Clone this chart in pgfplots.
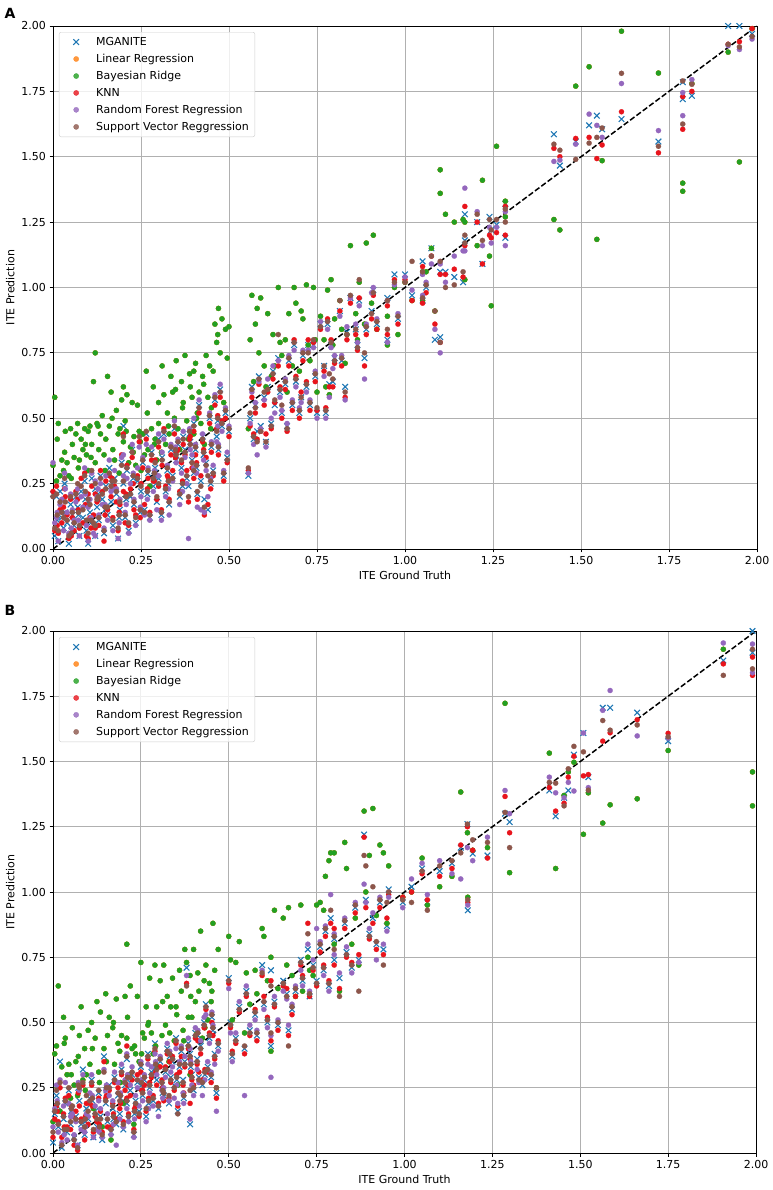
\documentclass[border=0pt]{standalone}
\usepackage{fontspec}
\setmainfont{DejaVu Sans}
\usepackage{pgfplots}
\usepackage{pgfplotstable}
\pgfplotsset{compat=1.18}
\definecolor{cMG}{HTML}{1F77B4}
\definecolor{cLR}{HTML}{FF7F0E}
\definecolor{cBR}{HTML}{22A022}
\definecolor{cKN}{HTML}{E8141C}
\definecolor{cRF}{HTML}{9467BD}
\definecolor{cSV}{HTML}{8C564B}
\definecolor{cGrid}{HTML}{B0B0B0}

\pgfplotstableread{
x mg br kn rf sv
0.00 0.21 0.32 0.22 0.33 0.20
0.005 0.05 0.58 0.07 0.10 0.08
0.01 0.20 0.26 0.24 0.12 0.21
0.015 0.03 0.48 0.06 0.03 0.07
0.02 0.22 0.28 0.15 0.17 0.18
0.025 0.12 0.34 0.10 0.19 0.14
0.03 0.08 0.30 0.16 0.07 0.12
0.035 0.14 0.45 0.20 0.23 0.18
0.04 0.10 0.33 0.13 0.14 0.11
0.045 0.02 0.28 0.04 0.06 0.05
0.05 0.17 0.46 0.19 0.21 0.20
0.055 0.13 0.40 0.12 0.15 0.14
0.06 0.09 0.35 0.07 0.11 0.10
0.065 0.20 0.44 0.22 0.18 0.21
0.07 0.16 0.48 0.19 0.23 0.25
0.075 0.05 0.34 0.08 0.05 0.09
0.08 0.22 0.42 0.27 0.20 0.24
0.085 0.12 0.38 0.10 0.16 0.15
0.09 0.26 0.46 0.29 0.31 0.28
0.095 0.07 0.36 0.05 0.09 0.11
0.10 0.18 0.45 0.21 0.16 0.19
0.10 0.02 0.30 0.04 0.03 0.06
0.105 0.14 0.47 0.12 0.19 0.17
0.11 0.27 0.40 0.24 0.29 0.30
0.115 0.09 0.64 0.13 0.06 0.10
0.12 0.23 0.33 0.21 0.26 0.25
0.12 0.05 0.75 0.08 0.05 0.09
0.125 0.16 0.48 0.18 0.20 0.19
0.13 0.11 0.38 0.09 0.13 0.12
0.135 0.28 0.44 0.30 0.25 0.27
0.14 0.19 0.51 0.22 0.17 0.21
0.145 0.06 0.36 0.03 0.08 0.07
0.15 0.24 0.42 0.26 0.28 0.23
0.155 0.13 0.66 0.15 0.11 0.16
0.16 0.31 0.47 0.28 0.34 0.29
0.165 0.18 0.60 0.20 0.22 0.24
0.17 0.09 0.38 0.12 0.07 0.11
0.175 0.27 0.34 0.24 0.30 0.26
0.18 0.21 0.53 0.18 0.23 0.22
0.185 0.04 0.44 0.07 0.04 0.08
0.19 0.15 0.46 0.17 0.19 0.18
0.195 0.33 0.57 0.36 0.35 0.32
0.20 0.47 0.62 0.44 0.36 0.43
0.20 0.25 0.41 0.22 0.28 0.26
0.205 0.12 0.49 0.10 0.14 0.13
0.21 0.30 0.59 0.32 0.27 0.31
0.215 0.07 0.33 0.09 0.06 0.10
0.22 0.20 0.39 0.23 0.25 0.21
0.225 0.38 0.56 0.35 0.40 0.37
0.23 0.17 0.43 0.15 0.19 0.18
0.235 0.10 0.32 0.13 0.09 0.12
0.24 0.26 0.55 0.28 0.31 0.27
0.245 0.44 0.45 0.41 0.39 0.43
0.25 0.22 0.30 0.25 0.20 0.24
0.255 0.33 0.44 0.31 0.35 0.34
0.26 0.15 0.36 0.17 0.13 0.14
0.265 0.44 0.68 0.42 0.40 0.45
0.27 0.29 0.38 0.27 0.31 0.30
0.275 0.12 0.24 0.14 0.11 0.13
0.28 0.37 0.46 0.34 0.39 0.36
0.285 0.24 0.62 0.26 0.22 0.27
0.29 0.31 0.42 0.34 0.29 0.33
0.295 0.18 0.34 0.19 0.15 0.20
0.30 0.42 0.56 0.39 0.44 0.41
0.30 0.27 0.48 0.24 0.28 0.25
0.31 0.35 0.70 0.32 0.37 0.34
0.315 0.44 0.59 0.46 0.42 0.45
0.32 0.22 0.40 0.24 0.20 0.23
0.325 0.30 0.52 0.28 0.32 0.31
0.33 0.17 0.44 0.19 0.13 0.18
0.335 0.38 0.66 0.36 0.40 0.39
0.34 0.28 0.60 0.30 0.26 0.27
0.345 0.46 0.50 0.44 0.49 0.47
0.35 0.34 0.72 0.37 0.33 0.36
0.355 0.40 0.46 0.38 0.42 0.41
0.36 0.20 0.38 0.22 0.17 0.21
0.365 0.31 0.64 0.33 0.29 0.34
0.37 0.43 0.56 0.40 0.45 0.42
0.375 0.38 0.74 0.36 0.35 0.37
0.38 0.27 0.49 0.30 0.25 0.28
0.385 0.24 0.42 0.18 0.04 0.20
0.39 0.41 0.62 0.43 0.38 0.40
0.395 0.34 0.58 0.31 0.36 0.33
0.40 0.48 0.68 0.45 0.50 0.47
0.40 0.29 0.44 0.27 0.31 0.30
0.405 0.38 0.71 0.36 0.40 0.39
0.41 0.21 0.52 0.19 0.16 0.22
0.415 0.55 0.60 0.52 0.57 0.54
0.42 0.26 0.48 0.28 0.15 0.24
0.425 0.43 0.66 0.41 0.44 0.42
0.43 0.19 0.40 0.13 0.14 0.16
0.435 0.33 0.74 0.35 0.30 0.32
0.44 0.15 0.58 0.17 0.20 0.28
0.445 0.50 0.70 0.48 0.52 0.51
0.45 0.39 0.54 0.37 0.41 0.40
0.455 0.30 0.68 0.28 0.32 0.29
0.46 0.57 0.86 0.55 0.59 0.58
0.465 0.43 0.79 0.46 0.41 0.45
0.47 0.38 0.92 0.36 0.40 0.39
0.475 0.61 0.75 0.58 0.63 0.60
0.48 0.47 0.88 0.49 0.45 0.48
0.485 0.28 0.56 0.26 0.30 0.29
0.49 0.52 0.84 0.50 0.54 0.53
0.495 0.35 0.73 0.33 0.37 0.34
0.50 0.45 0.85 0.43 0.47 0.46
0.555 0.28 0.46 0.30 0.29 0.31
0.56 0.50 0.80 0.47 0.48 0.52
0.565 0.62 0.97 0.58 0.60 0.61
0.57 0.42 0.64 0.44 0.40 0.43
0.575 0.55 0.86 0.52 0.56 0.54
0.58 0.45 0.92 0.42 0.36 0.41
0.585 0.66 0.75 0.63 0.64 0.65
0.59 0.47 0.96 0.45 0.46 0.45
0.60 0.58 0.70 0.55 0.57 0.60
0.605 0.41 0.62 0.44 0.39 0.41
0.61 0.62 0.90 0.60 0.65 0.61
0.62 0.48 0.66 0.46 0.50 0.47
0.625 0.68 0.82 0.65 0.70 0.67
0.63 0.55 0.70 0.56 0.52 0.57
0.64 0.73 1.00 0.70 0.72 0.82
0.645 0.60 0.79 0.62 0.58 0.61
0.65 0.52 0.74 0.50 0.53 0.55
0.66 0.63 0.80 0.61 0.65 0.64
0.665 0.47 0.60 0.45 0.48 0.46
0.67 0.72 0.90 0.70 0.74 0.73
0.68 0.55 0.70 0.53 0.57 0.56
0.685 0.78 1.00 0.80 0.76 0.79
0.69 0.64 0.94 0.66 0.62 0.65
0.70 0.52 0.68 0.50 0.54 0.53
0.705 0.58 0.91 0.60 0.56 0.58
0.71 0.74 0.88 0.72 0.76 0.75
0.72 0.62 1.01 0.64 0.60 0.63
0.725 0.78 0.78 0.80 0.76 0.75
0.73 0.55 0.72 0.53 0.57 0.56
0.74 0.78 1.00 0.79 0.77 0.80
0.745 0.66 0.80 0.64 0.68 0.67
0.75 0.52 0.60 0.53 0.50 0.54
0.76 0.86 0.89 0.84 0.87 0.85
0.77 0.70 0.80 0.68 0.66 0.70
0.775 0.52 0.62 0.54 0.50 0.53
0.78 0.86 0.99 0.88 0.84 0.87
0.785 0.63 0.59 0.62 0.58 0.67
0.79 0.78 1.03 0.80 0.77 0.79
0.795 0.64 0.78 0.62 0.69 0.65
0.80 0.73 0.88 0.71 0.74 0.72
0.815 0.91 0.95 0.91 0.89 0.95
0.82 0.72 0.84 0.70 0.74 0.73
0.83 0.62 0.71 0.58 0.57 0.60
0.835 0.83 0.82 0.80 0.85 0.82
0.845 0.96 1.16 0.94 0.96 0.97
0.86 0.84 0.90 0.82 0.86 0.84
0.865 0.78 0.80 0.76 0.79 0.77
0.87 0.95 1.02 0.96 0.93 1.03
0.885 0.73 0.86 0.70 0.65 0.75
0.89 0.84 1.17 0.82 0.86 0.85
0.905 0.91 0.94 0.88 0.98 0.90
0.91 0.99 1.20 0.97 1.00 0.98
0.92 0.86 0.84 0.84 0.88 0.87
0.95 0.96 0.89 0.93 0.95 0.95
0.95 0.80 0.78 0.82 0.79 0.84
0.97 1.05 1.00 1.03 1.01 1.02
0.98 0.88 0.82 0.86 0.90 0.89
1.00 1.05 1.02 1.03 1.04 1.02
1.02 0.97 0.95 0.95 0.99 1.10
1.05 1.10 1.06 1.08 1.05 1.06
1.05 0.95 0.95 0.94 0.97 0.96
1.06 1.00 1.06 0.98 1.02 1.01
1.075 1.15 1.15 1.12 1.09 1.12
1.085 0.80 0.91 0.86 0.84 0.91
1.10 0.81 1.36 0.79 0.75 0.79
1.10 1.06 1.45 1.05 1.09 1.10
1.115 1.06 1.28 1.05 1.02 1.00
1.14 1.04 1.25 1.07 1.12 1.01
1.165 1.02 1.26 1.04 1.14 1.06
1.17 1.28 1.25 1.31 1.38 1.20
1.17 1.18 1.03 1.16 1.14 1.17
1.205 1.25 1.16 1.25 1.29 1.28
1.22 1.09 1.41 1.09 1.16 1.18
1.24 1.27 1.12 1.20 1.23 1.26
1.245 1.22 0.93 1.19 1.17 1.22
1.26 1.24 1.54 1.21 1.23 1.26
1.285 1.32 1.33 1.31 1.29 1.30
1.285 1.19 1.27 1.20 1.16 1.25
1.423 1.586 1.26 1.532 1.482 1.548
1.44 1.466 1.22 1.50 1.487 1.525
1.485 1.558 1.77 1.57 1.548 1.49
1.523 1.62 1.844 1.574 1.663 1.552
1.545 1.657 1.184 1.493 1.62 1.574
1.56 1.605 1.485 1.545 1.574 1.61
1.615 1.644 1.98 1.672 1.78 1.819
1.72 1.558 1.82 1.515 1.60 1.54
1.789 1.72 1.399 1.73 1.745 1.79
1.789 1.785 1.368 1.605 1.657 1.625
1.815 1.733 1.78 1.75 1.795 1.777
1.918 2.00 1.90 1.93 1.925 1.93
1.95 2.00 1.48 1.94 1.91 1.92
1.986 1.97 1.99 1.99 1.95 1.96
0.012 0.11 0.42 0.09 0.14 0.13
0.033 0.25 0.37 0.23 0.29 0.27
0.052 0.07 0.27 0.05 0.08 0.06
0.072 0.13 0.31 0.15 0.11 0.14
0.092 0.19 0.40 0.17 0.21 0.22
0.108 0.10 0.35 0.08 0.12 0.11
0.128 0.21 0.47 0.19 0.23 0.20
0.148 0.15 0.30 0.13 0.17 0.16
0.168 0.25 0.50 0.27 0.23 0.26
0.188 0.12 0.29 0.14 0.10 0.13
0.208 0.19 0.45 0.21 0.17 0.20
0.228 0.27 0.37 0.25 0.29 0.28
0.248 0.14 0.41 0.12 0.16 0.15
0.268 0.21 0.52 0.23 0.19 0.22
0.288 0.28 0.40 0.26 0.30 0.29
0.308 0.13 0.37 0.15 0.11 0.14
0.328 0.25 0.47 0.27 0.23 0.26
0.348 0.37 0.61 0.35 0.39 0.38
0.368 0.24 0.54 0.26 0.22 0.25
0.388 0.44 0.67 0.42 0.46 0.45
0.408 0.31 0.50 0.33 0.29 0.32
0.428 0.36 0.63 0.38 0.34 0.37
0.448 0.25 0.46 0.23 0.27 0.26
0.468 0.49 0.82 0.51 0.47 0.50
}\tabA

\pgfplotstableread{
x mg br kn rf sv
0.00 0.04 0.12 0.06 0.10 0.08
0.005 0.15 0.38 0.13 0.17 0.16
0.01 0.22 0.41 0.18 0.26 0.24
0.015 0.10 0.64 0.12 0.08 0.11
0.02 0.35 0.16 0.25 0.28 0.27
0.025 0.02 0.33 0.06 0.04 0.03
0.03 0.13 0.52 0.15 0.18 0.14
0.035 0.19 0.44 0.21 0.27 0.20
0.04 0.08 0.30 0.10 0.05 0.09
0.045 0.24 0.34 0.22 0.19 0.25
0.05 0.11 0.21 0.09 0.14 0.12
0.055 0.17 0.48 0.14 0.15 0.18
0.06 0.06 0.26 0.03 0.07 0.05
0.065 0.14 0.35 0.16 0.12 0.13
0.07 0.03 0.22 0.01 0.03 0.02
0.075 0.20 0.45 0.18 0.24 0.25
0.08 0.11 0.56 0.13 0.09 0.12
0.085 0.32 0.28 0.26 0.30 0.27
0.09 0.07 0.40 0.05 0.08 0.10
0.095 0.17 0.30 0.19 0.15 0.22
0.10 0.13 0.47 0.11 0.14 0.16
0.105 0.21 0.34 0.19 0.23 0.20
0.11 0.28 0.50 0.26 0.30 0.27
0.115 0.06 0.17 0.08 0.06 0.09
0.12 0.16 0.44 0.14 0.18 0.15
0.125 0.10 0.58 0.12 0.09 0.13
0.13 0.23 0.31 0.21 0.20 0.24
0.135 0.14 0.54 0.16 0.17 0.13
0.14 0.05 0.10 0.08 0.06 0.07
0.145 0.37 0.40 0.35 0.32 0.31
0.15 0.19 0.61 0.21 0.24 0.20
0.155 0.12 0.45 0.10 0.15 0.13
0.16 0.26 0.52 0.24 0.22 0.25
0.165 0.08 0.05 0.10 0.07 0.09
0.17 0.17 0.48 0.19 0.20 0.18
0.175 0.29 0.34 0.27 0.31 0.28
0.18 0.11 0.59 0.13 0.03 0.12
0.185 0.22 0.42 0.25 0.27 0.23
0.19 0.15 0.39 0.17 0.13 0.20
0.195 0.32 0.45 0.30 0.34 0.31
0.20 0.09 0.19 0.12 0.10 0.11
0.205 0.26 0.60 0.24 0.28 0.27
0.21 0.36 0.80 0.41 0.38 0.37
0.21 0.19 0.44 0.21 0.17 0.20
0.215 0.13 0.30 0.15 0.12 0.14
0.22 0.24 0.64 0.22 0.26 0.29
0.225 0.30 0.40 0.28 0.33 0.31
0.23 0.07 0.11 0.09 0.06 0.08
0.235 0.20 0.38 0.18 0.22 0.19
0.24 0.27 0.60 0.30 0.25 0.28
0.245 0.16 0.35 0.14 0.18 0.15
0.25 0.33 0.73 0.31 0.35 0.34
0.255 0.22 0.46 0.24 0.20 0.23
0.26 0.28 0.44 0.26 0.30 0.29
0.265 0.14 0.56 0.16 0.12 0.17
0.27 0.38 0.49 0.36 0.34 0.37
0.275 0.25 0.67 0.27 0.23 0.26
0.28 0.31 0.46 0.29 0.33 0.30
0.285 0.20 0.38 0.22 0.18 0.21
0.29 0.42 0.72 0.39 0.38 0.40
0.295 0.28 0.56 0.26 0.30 0.32
0.30 0.17 0.33 0.19 0.14 0.18
0.305 0.35 0.66 0.33 0.37 0.36
0.31 0.26 0.45 0.28 0.24 0.27
0.315 0.22 0.72 0.20 0.25 0.23
0.32 0.31 0.49 0.33 0.29 0.32
0.325 0.40 0.60 0.38 0.42 0.39
0.33 0.19 0.35 0.21 0.20 0.22
0.335 0.29 0.56 0.27 0.31 0.28
0.34 0.35 0.67 0.37 0.33 0.36
0.345 0.26 0.43 0.24 0.21 0.25
0.35 0.44 0.56 0.42 0.40 0.43
0.355 0.16 0.26 0.18 0.19 0.15
0.36 0.33 0.70 0.31 0.35 0.34
0.365 0.39 0.62 0.37 0.41 0.40
0.37 0.28 0.47 0.26 0.23 0.27
0.375 0.35 0.78 0.33 0.37 0.34
0.38 0.71 0.73 0.65 0.68 0.64
0.385 0.42 0.52 0.40 0.44 0.41
0.39 0.11 0.30 0.19 0.13 0.24
0.39 0.38 0.68 0.36 0.40 0.37
0.395 0.30 0.52 0.28 0.26 0.29
0.40 0.24 0.78 0.26 0.22 0.25
0.405 0.46 0.58 0.44 0.48 0.45
0.41 0.36 0.46 0.34 0.32 0.35
0.415 0.29 0.62 0.31 0.27 0.28
0.42 0.41 0.85 0.38 0.43 0.40
0.425 0.26 0.44 0.28 0.22 0.27
0.43 0.50 0.66 0.48 0.52 0.49
0.435 0.57 0.72 0.55 0.53 0.56
0.44 0.33 0.51 0.31 0.35 0.32
0.445 0.44 0.65 0.46 0.42 0.45
0.45 0.29 0.58 0.27 0.31 0.30
0.455 0.47 0.88 0.45 0.49 0.48
0.46 0.38 0.70 0.36 0.34 0.37
0.465 0.23 0.25 0.21 0.16 0.25
0.47 0.41 0.78 0.43 0.39 0.42
0.50 0.67 0.83 0.65 0.63 0.66
0.505 0.50 0.74 0.48 0.46 0.49
0.51 0.37 0.51 0.39 0.35 0.38
0.52 0.44 0.73 0.42 0.46 0.43
0.53 0.56 0.81 0.54 0.58 0.55
0.545 0.40 0.46 0.38 0.22 0.41
0.55 0.62 0.69 0.60 0.64 0.61
0.56 0.47 0.57 0.45 0.49 0.46
0.575 0.53 0.70 0.55 0.51 0.54
0.58 0.45 0.61 0.43 0.47 0.46
0.595 0.72 0.86 0.68 0.70 0.69
0.60 0.57 0.83 0.60 0.55 0.58
0.61 0.50 0.66 0.52 0.48 0.51
0.62 0.70 0.75 0.66 0.29 0.64
0.62 0.41 0.39 0.43 0.45 0.46
0.63 0.58 0.93 0.56 0.60 0.57
0.64 0.49 0.63 0.47 0.51 0.50
0.655 0.66 0.90 0.64 0.62 0.65
0.665 0.61 0.72 0.63 0.59 0.60
0.67 0.47 0.94 0.45 0.49 0.41
0.68 0.55 0.68 0.53 0.57 0.56
0.69 0.62 0.60 0.60 0.64 0.63
0.705 0.74 0.95 0.72 0.70 0.73
0.71 0.66 0.62 0.68 0.64 0.67
0.725 0.78 0.75 0.88 0.80 0.84
0.73 0.60 0.70 0.60 0.62 0.61
0.74 0.72 0.68 0.70 0.74 0.71
0.75 0.66 0.95 0.64 0.86 0.65
0.76 0.79 0.96 0.77 0.81 0.80
0.77 0.70 0.93 0.72 0.68 0.71
0.775 0.85 1.06 0.83 0.87 0.86
0.785 0.64 1.12 0.66 0.62 0.65
0.79 0.90 1.15 0.88 0.99 0.93
0.80 0.74 0.80 0.72 0.76 0.78
0.80 0.82 1.15 0.86 0.84 0.83
0.815 0.67 0.62 0.63 0.69 0.60
0.83 0.88 1.19 0.86 0.90 0.89
0.835 0.77 1.09 0.75 0.79 0.76
0.85 0.71 0.80 0.73 0.69 0.72
0.86 0.94 0.90 0.92 0.96 0.95
0.87 0.74 0.72 0.76 0.73 0.62
0.885 1.22 1.31 1.21 1.03 1.14
0.89 0.97 1.00 0.94 0.96 1.10
0.90 0.84 1.14 0.82 0.86 0.83
0.91 0.90 1.32 0.88 0.92 1.02
0.92 0.80 0.91 0.78 0.74 0.81
0.93 0.96 1.18 0.94 0.98 0.97
0.94 0.78 1.15 0.76 0.80 0.72
0.95 0.87 0.88 0.90 0.85 0.96
0.955 1.01 1.10 0.99 0.98 1.00
0.995 0.96 0.98 0.98 0.94 0.97
1.02 1.02 1.00 1.00 1.05 0.96
1.05 1.09 1.13 1.07 1.11 1.08
1.065 0.96 0.95 0.97 0.99 0.93
1.10 1.08 1.02 1.06 1.12 1.10
1.135 1.11 1.06 1.09 1.07 1.12
1.16 1.17 1.383 1.18 1.05 1.15
1.179 1.26 1.227 1.25 1.17 1.26
1.18 0.93 0.98 0.96 0.95 0.97
1.194 1.147 1.16 1.16 1.12 1.20
1.236 1.14 1.17 1.13 1.21 1.19
1.286 1.30 1.723 1.366 1.389 1.305
1.299 1.268 1.074 1.227 1.30 1.17
1.412 1.389 1.532 1.40 1.44 1.42
1.43 1.29 1.09 1.31 1.38 1.417
1.454 1.361 1.37 1.34 1.361 1.33
1.466 1.389 1.46 1.44 1.42 1.472
1.482 1.526 1.497 1.52 1.387 1.558
1.509 1.609 1.221 1.445 1.609 1.537
1.523 1.44 1.38 1.45 1.40 1.39
1.564 1.706 1.264 1.578 1.696 1.657
1.585 1.706 1.334 1.61 1.772 1.62
1.662 1.687 1.357 1.66 1.598 1.64
1.75 1.578 1.542 1.608 1.59 1.595
1.907 1.887 1.93 1.874 1.954 1.83
1.99 1.917 1.46 1.83 1.84 1.855
1.99 2.00 1.33 1.90 1.95 1.93
0.012 0.18 0.25 0.16 0.20 0.19
0.032 0.08 0.42 0.10 0.07 0.09
0.052 0.16 0.30 0.18 0.14 0.17
0.072 0.25 0.37 0.23 0.27 0.26
0.092 0.12 0.24 0.14 0.10 0.13
0.112 0.20 0.40 0.18 0.22 0.21
0.132 0.09 0.27 0.11 0.08 0.10
0.152 0.24 0.35 0.22 0.26 0.25
0.172 0.13 0.50 0.15 0.11 0.14
0.192 0.21 0.27 0.19 0.23 0.22
0.212 0.28 0.52 0.26 0.30 0.29
0.232 0.15 0.41 0.17 0.13 0.16
0.252 0.26 0.38 0.24 0.28 0.27
0.272 0.19 0.50 0.21 0.17 0.20
0.292 0.33 0.41 0.31 0.35 0.34
0.312 0.23 0.58 0.25 0.21 0.24
0.332 0.37 0.46 0.35 0.39 0.38
0.352 0.28 0.53 0.30 0.26 0.29
0.372 0.21 0.43 0.23 0.19 0.22
0.392 0.33 0.60 0.31 0.35 0.34
0.412 0.45 0.69 0.43 0.47 0.46
0.432 0.30 0.48 0.32 0.28 0.31
0.452 0.52 0.62 0.50 0.54 0.53
}\tabB

\pgfplotsset{
  myax/.style={
    anchor=south west, scale only axis,
    xmin=0, xmax=2, ymin=0, ymax=2,
    xtick={0,0.25,0.5,0.75,1,1.25,1.5,1.75,2},
    ytick={0,0.25,0.5,0.75,1,1.25,1.5,1.75,2},
    xticklabel style={/pgf/number format/.cd, fixed, fixed zerofill, precision=2, assume math mode=true},
    yticklabel style={/pgf/number format/.cd, fixed, fixed zerofill, precision=2, assume math mode=true},
    ticklabel style={font=\fontsize{11}{13}\selectfont},
    label style={font=\fontsize{11}{13}\selectfont},
    grid=major, major grid style={color=cGrid, line width=0.8pt},
    axis line style={line width=0.8pt},
    tick style={black, line width=0.8pt},
    tick align=outside, tick pos=left, major tick length=3.5pt,
    xlabel={ITE Ground Truth}, ylabel={ITE Prediction},
    legend cell align=left,
    legend style={at={(0.0085,0.9885)}, anchor=north west, draw=black!20, rounded corners=2pt,
      fill=white, fill opacity=0.8, text opacity=1, font=\fontsize{11}{13}\selectfont,
      row sep=3.2pt, inner xsep=4pt, inner ysep=3pt},
  },
  xs/.style={only marks, mark=x, mark size=4pt, color=cMG, mark options={line width=1.1pt},
    legend image code/.code={\path[draw=none,fill=none] (0pt,-2pt) rectangle (31pt,2pt); \draw[##1] plot coordinates {(13pt,0pt)};}},
  ds/.style={only marks, mark=*, mark size=2.6pt, color=#1, mark options={line width=0.2pt},
    legend image code/.code={\path[draw=none,fill=none] (0pt,-2pt) rectangle (31pt,2pt); \draw[##1] plot coordinates {(13pt,0pt)};}},
}

\begin{document}
\begin{tikzpicture}
\path[use as bounding box] (0,0) rectangle (772pt,1190pt);
\begin{axis}[myax, at={(53pt,641pt)}, width=704pt, height=523pt]
\addplot[xs] table[x=x,y=mg]{\tabA};
\addplot[ds=cLR] table[x=x,y=br]{\tabA};
\addplot[ds=cBR] table[x=x,y=br]{\tabA};
\addplot[ds=cKN] table[x=x,y=kn]{\tabA};
\addplot[ds=cRF] table[x=x,y=rf]{\tabA};
\addplot[ds=cSV] table[x=x,y=sv]{\tabA};
\addplot[forget plot, black, line width=1.5pt, dash pattern=on 5.5pt off 2.4pt] coordinates {(0,0) (2,2)};
\legend{MGANITE, Linear Regression, Bayesian Ridge, KNN, Random Forest Regression, Support Vector Reggression}
\end{axis}
\node[font=\bfseries\fontsize{14}{16}\selectfont] at (10pt,1177pt) {A};

\begin{axis}[myax, at={(53pt,37pt)}, width=703pt, height=522pt]
\addplot[xs] table[x=x,y=mg]{\tabB};
\addplot[ds=cLR] table[x=x,y=br]{\tabB};
\addplot[ds=cBR] table[x=x,y=br]{\tabB};
\addplot[ds=cKN] table[x=x,y=kn]{\tabB};
\addplot[ds=cRF] table[x=x,y=rf]{\tabB};
\addplot[ds=cSV] table[x=x,y=sv]{\tabB};
\addplot[forget plot, black, line width=1.5pt, dash pattern=on 5.5pt off 2.4pt] coordinates {(0,0) (2,2)};
\legend{MGANITE, Linear Regression, Bayesian Ridge, KNN, Random Forest Regression, Support Vector Reggression}
\end{axis}
\node[font=\bfseries\fontsize{14}{16}\selectfont] at (10pt,580pt) {B};
\end{tikzpicture}
\end{document}
